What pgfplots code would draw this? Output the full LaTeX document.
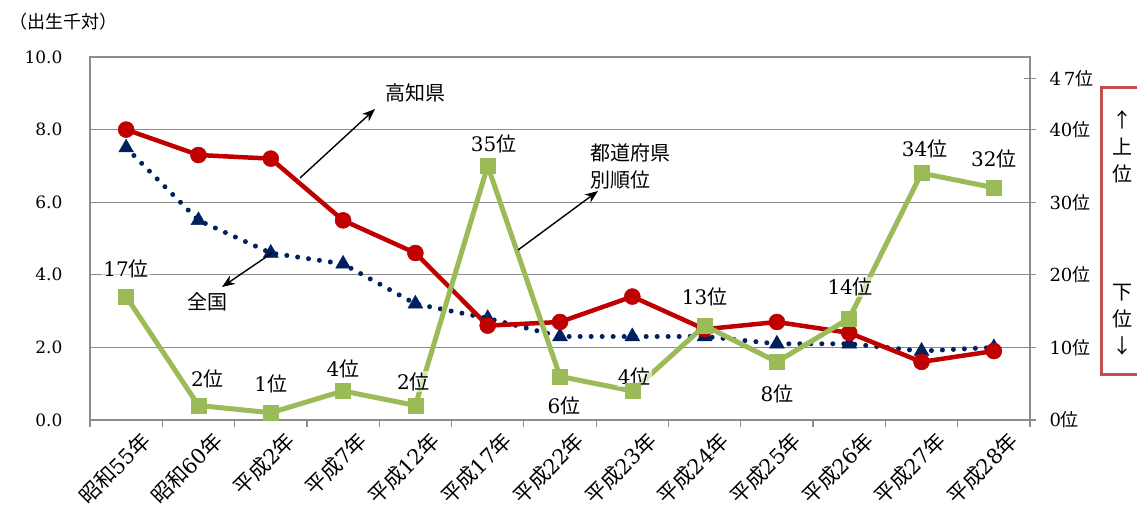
\documentclass[border=0pt]{standalone}
\usepackage{pgfplots}
\pgfplotsset{compat=1.18}
\usepackage{fontspec}
\setmainfont{DejaVu Serif}
\newfontfamily\cjk{Noto Sans CJK JP}
\usetikzlibrary{arrows.meta}
\newcommand{\J}[1]{{\cjk #1}}
\definecolor{kred}{HTML}{C00000}
\definecolor{knavy}{HTML}{002060}
\definecolor{kgreen}{HTML}{9BBB59}
\definecolor{boxred}{HTML}{C0504D}
\definecolor{gridgray}{HTML}{8C8C8C}
\tikzset{lab/.style={font=\fontsize{20}{20}\selectfont, fill=white, fill opacity=0.6, text opacity=1, inner sep=1pt}}
\begin{document}
\begin{tikzpicture}[x=1pt,y=1pt]
\useasboundingbox (0,0) rectangle (1137,508);
\begin{axis}[
  at={(90pt,88pt)}, anchor=south west, scale only axis,
  width=940pt, height=363pt,
  xmin=-0.5, xmax=12.5, ymin=0, ymax=10,
  axis line style={gridgray, line width=1.2pt},
  ytick={0,2,...,10}, ymajorgrids,
  grid style={gridgray, line width=1.2pt},
  xtick={0,...,12},
  xticklabels={\J{昭和}55\J{年},\J{昭和}60\J{年},\J{平成}2\J{年},\J{平成}7\J{年},\J{平成}12\J{年},\J{平成}17\J{年},\J{平成}22\J{年},\J{平成}23\J{年},\J{平成}24\J{年},\J{平成}25\J{年},\J{平成}26\J{年},\J{平成}27\J{年},\J{平成}28\J{年}},
  minor xtick={-0.5,0.5,...,12.5},
  major tick length=0pt, minor tick length=7pt, tick align=outside,
  xtick pos=bottom, ytick pos=left,
  minor tick style={gridgray, line width=1.2pt},
  yticklabel style={font=\fontsize{17}{17}\selectfont, xshift=-24pt},
  xticklabel style={font=\fontsize{21}{21}\selectfont, rotate=45, anchor=east, yshift=-26pt, xshift=6pt},
  /pgf/number format/.cd, fixed, fixed zerofill, precision=1, assume math mode=true,
]
\addplot[knavy, line width=5pt, line cap=round, dash pattern=on 0pt off 11pt,
  mark=triangle*, mark size=8.5pt, mark options={solid, fill=knavy, draw=knavy, line width=0.5pt}]
  coordinates {(0,7.5)(1,5.5)(2,4.6)(3,4.3)(4,3.2)(5,2.8)(6,2.3)(7,2.3)(8,2.3)(9,2.1)(10,2.1)(11,1.9)(12,2.0)};
\addplot[kred, line width=4.5pt, mark=*, mark size=8pt, mark options={fill=kred, draw=kred, line width=0.5pt}]
  coordinates {(0,8.0)(1,7.3)(2,7.2)(3,5.5)(4,4.6)(5,2.6)(6,2.7)(7,3.4)(8,2.5)(9,2.7)(10,2.4)(11,1.6)(12,1.9)};
\end{axis}
\begin{axis}[
  at={(90pt,88pt)}, anchor=south west, scale only axis,
  width=940pt, height=363pt,
  xmin=-0.5, xmax=12.5, ymin=0, ymax=50,
  axis x line=none, axis y line*=right,
  axis line style={gridgray, line width=1.2pt},
  ytick={0,10,20,30,40,47},
  yticklabels={0\J{位},10\J{位},20\J{位},30\J{位},40\J{位},4\,7\J{位}},
  major tick length=12pt, tick align=center,
  ytick style={gridgray, line width=1.2pt},
  yticklabel style={font=\fontsize{18}{18}\selectfont, xshift=10pt},
]
\addplot[kgreen, line width=5pt, mark=square*, mark size=7.5pt, mark options={fill=kgreen, draw=kgreen, line width=0.5pt}]
  coordinates {(0,17)(1,2)(2,1)(3,4)(4,2)(5,35)(6,6)(7,4)(8,13)(9,8)(10,14)(11,34)(12,32)};
\node[lab] at (axis cs:0,17) [yshift=28pt] {17\J{位}};
\node[lab] at (axis cs:1,2) [xshift=9pt, yshift=27pt] {2\J{位}};
\node[lab] at (axis cs:2,1) [yshift=29pt] {1\J{位}};
\node[lab] at (axis cs:3,4) [yshift=22pt] {4\J{位}};
\node[lab] at (axis cs:4,2) [xshift=-2pt, yshift=24pt] {2\J{位}};
\node[lab] at (axis cs:5,35) [xshift=6pt, yshift=22pt] {35\J{位}};
\node[lab] at (axis cs:6,6) [xshift=4pt, yshift=-29pt] {6\J{位}};
\node[lab] at (axis cs:7,4) [xshift=2pt, yshift=14pt] {4\J{位}};
\node[lab] at (axis cs:8,13) [yshift=29pt] {13\J{位}};
\node[lab] at (axis cs:9,8) [yshift=-32pt] {8\J{位}};
\node[lab] at (axis cs:10,14) [xshift=1pt, yshift=31pt] {14\J{位}};
\node[lab] at (axis cs:11,34) [xshift=3pt, yshift=24pt] {34\J{位}};
\node[lab] at (axis cs:12,32) [yshift=29pt] {32\J{位}};
\end{axis}
% annotations (picture coords: x = px, y = 508 - py)
\node[anchor=west, font=\cjk\fontsize{18}{18}\selectfont] at (6,486) {（出生千対）};
\draw[line width=1.4pt, -{Stealth[length=13pt, width=10pt]}] (300,330) -- (375,399);
\node[font=\cjk\fontsize{20}{20}\selectfont] at (415,415) {高知県};
\draw[line width=1.4pt, -{Stealth[length=13pt, width=10pt]}] (272,255) -- (222,221);
\node[font=\cjk\fontsize{20}{20}\selectfont] at (207,206) {全国};
\draw[line width=1.4pt, -{Stealth[length=13pt, width=10pt]}] (518,258) -- (598,317);
\node[anchor=west, align=left, font=\cjk\fontsize{20}{27}\selectfont] at (587,342) {都道府県\\別順位};
\draw[boxred, line width=3pt] (1145,420) -- (1101,420) -- (1101,133) -- (1145,133);
\node[align=center, font=\cjk\fontsize{20}{27}\selectfont] at (1122,361) {↑\\上\\位};
\node[align=center, font=\cjk\fontsize{20}{27}\selectfont] at (1122,188) {下\\位\\↓};
\end{tikzpicture}
\end{document}
